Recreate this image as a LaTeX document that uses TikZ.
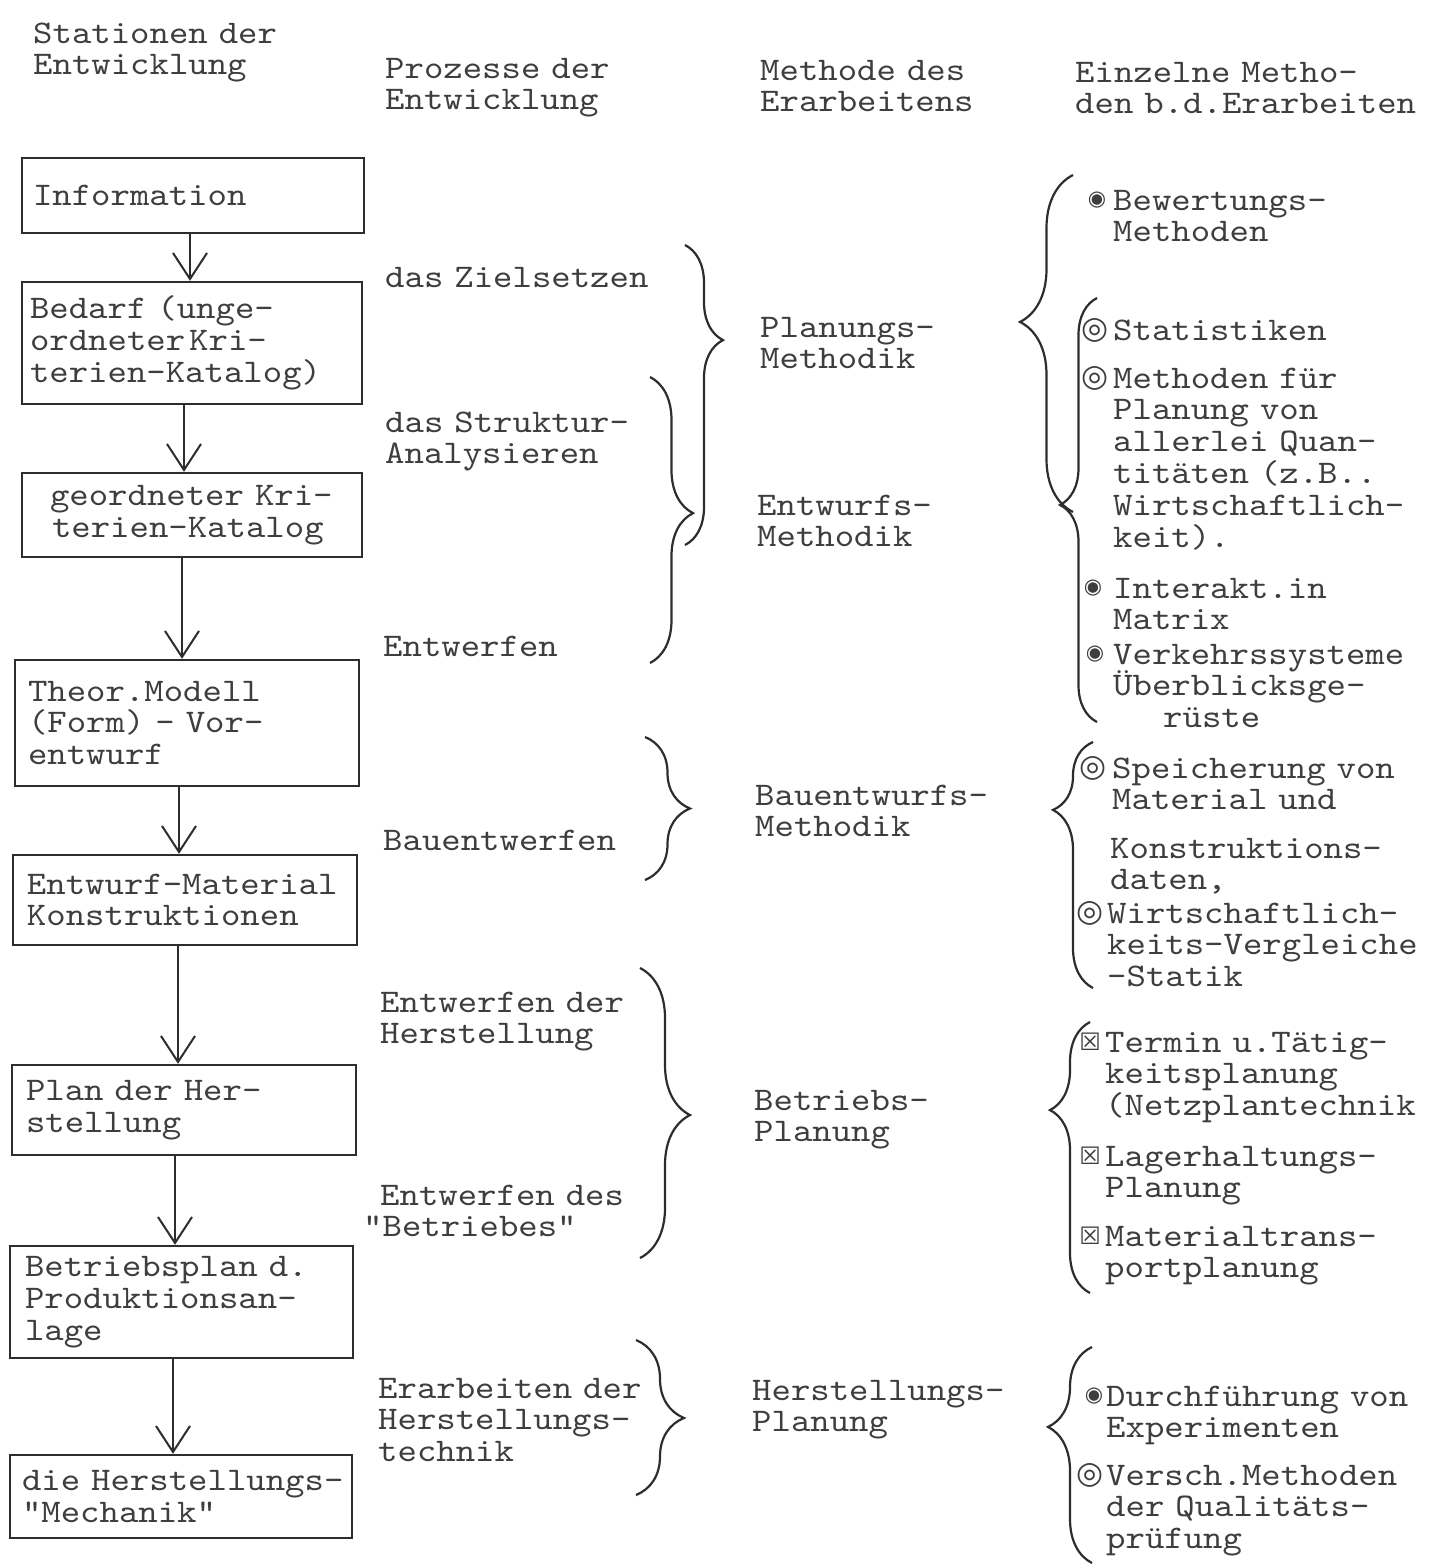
\documentclass[tikz,border=0pt]{standalone}
\usepackage{fontspec}
\newfontfamily\typew{lmmono10-regular.otf}[FakeStretch=1.12, Ligatures=TeXOff, HyphenChar=None, WordSpace={1,0,0}]
\newfontfamily\symfont{DejaVu Sans}
\usetikzlibrary{arrows.meta,decorations.pathreplacing}
\definecolor{ink}{RGB}{62,62,62}
\definecolor{rule}{RGB}{45,45,45}
\newcommand\tw{\typew\fontsize{33}{31.8}\selectfont\frenchspacing\lineskiplimit=-100pt\relax}
\newcommand\symbig{\symfont\fontsize{31}{31}\selectfont}
\newcommand\symsmall{\symfont\fontsize{21}{21}\selectfont}
\newcommand\symbox{\symfont\fontsize{24}{24}\selectfont}
\begin{document}
\begin{tikzpicture}[x=1pt,y=-1pt,
  lbl/.style={anchor=base west, inner sep=0pt, text width=420pt, align=left, text=ink, font=\tw},
  stage/.style={draw=rule, line width=2.4pt, align=left, text=ink, font=\tw, inner ysep=0pt},
  flow/.style={draw=rule, line width=2pt, -{Straight Barb[length=26pt,width=34pt,line width=2pt]}},
  curly/.style={draw=rule, line width=2.2pt, decorate},
  bulletmark/.style={inner sep=0pt, text=ink, anchor=center}]
\useasboundingbox (0,0) rectangle (1433,1566);
\fill[white] (0,0) rectangle (1433,1566);

% column headings
\node[lbl] (h1) at (33,43) {Stationen der\\Entwicklung};
\node[lbl] (h2) at (385,78) {Prozesse der\\Entwicklung};
\node[lbl] (h3) at (760,80) {Methode des\\Erarbeitens};
\node[lbl] (h4) at (1075,82) {Einzelne Metho-\\den b.d.Erarbeiten};

% stations of the development
\node[stage, minimum width=342pt, minimum height=75pt, inner xsep=11pt, text width=320pt] (b1) at (193,195.5) {Information};
\node[stage, minimum width=340pt, minimum height=122pt, inner xsep=8pt, text width=324pt] (b2) at (192,343) {\mbox{Bedarf (unge-}\\\mbox{ordneter\kern4pt Kri-}\\\mbox{terien-Katalog)}};
\node[stage, minimum width=340pt, minimum height=84pt, inner xsep=28pt, text width=284pt] (b3) at (192,515) {\mbox{geordneter Kri-}\\\mbox{\hspace*{2pt}terien-Katalog}};
\node[stage, minimum width=344pt, minimum height=126pt, inner xsep=13pt, text width=318pt] (b4) at (187,723) {\mbox{Theor.Modell}\\\mbox{(Form) - Vor-}\\\mbox{entwurf}};
\node[stage, minimum width=344pt, minimum height=90pt, inner xsep=14pt, text width=316pt] (b5) at (185,900) {\mbox{Entwurf-Material}\\\mbox{Konstruktionen}};
\node[stage, minimum width=344pt, minimum height=90pt, inner xsep=14pt, text width=316pt] (b6) at (184,1110) {\mbox{Plan der Her-}\\\mbox{stellung}};
\node[stage, minimum width=343pt, minimum height=112pt, inner xsep=15pt, text width=313pt] (b7) at (181.5,1302) {\mbox{Betriebsplan d.}\\\mbox{Produktionsan-}\\\mbox{lage}};
\node[stage, minimum width=342pt, minimum height=83pt, inner xsep=12pt, text width=318pt] (b8) at (181,1496.5) {\mbox{die Herstellungs-}\\\mbox{"Mechanik"}};

% flow between the stations
\coordinate (x1) at (190,0);
\coordinate (x2) at (184,0);
\coordinate (x3) at (182,0);
\coordinate (x4) at (179,0);
\coordinate (x5) at (178,0);
\coordinate (x6) at (175,0);
\coordinate (x7) at (173,0);
\draw[flow] (b1.south -| x1) -- (b2.north -| x1);
\draw[flow] (b2.south -| x2) -- (b3.north -| x2);
\draw[flow] (b3.south -| x3) -- (b4.north -| x3);
\draw[flow] (b4.south -| x4) -- (b5.north -| x4);
\draw[flow] (b5.south -| x5) -- (b6.north -| x5);
\draw[flow] (b6.south -| x6) -- (b7.north -| x6);
\draw[flow] (b7.south -| x7) -- (b8.north -| x7);

% processes
\node[lbl] (m1) at (385,287) {das Zielsetzen};
\node[lbl] (m2) at (385,432) {das Struktur-\\Analysieren};
\node[lbl] (m3) at (383,656) {Entwerfen};
\node[lbl] (m4) at (383,850) {Bauentwerfen};
\node[lbl] (m5) at (380,1012) {Entwerfen der\\Herstellung};
\node[lbl] (m6) at (380,1205) {Entwerfen des\\\hspace*{-17pt}"Betriebes"};
\node[lbl] (m7) at (378,1398) {Erarbeiten der\\Herstellungs-\\technik};

% braces grouping the processes
\draw[curly, decoration={brace, amplitude=38pt, aspect=0.317}] (685,245) -- (685,545);
\draw[curly, decoration={brace, amplitude=43pt, aspect=0.476}] (650,377) -- (650,663);
\draw[curly, decoration={brace, amplitude=45pt, aspect=0.5}] (645,737) -- (645,880);
\draw[curly, decoration={brace, amplitude=50pt, aspect=0.507}] (640,968) -- (640,1258);
\draw[curly, decoration={brace, amplitude=48pt, aspect=0.503}] (636,1340) -- (636,1495);

% methods
\node[lbl] (p1) at (760,337) {Planungs-\\Methodik};
\node[lbl] (p2) at (757,515) {Entwurfs-\\Methodik};
\node[lbl] (p3) at (755,805) {Bauentwurfs-\\Methodik};
\node[lbl] (p4) at (754,1110) {Betriebs-\\Planung};
\node[lbl] (p5) at (752,1400) {Herstellungs-\\Planung};

% braces grouping the single methods
\draw[curly, decoration={brace, amplitude=53pt, aspect=0.564}] (1073,512) -- (1073,175);
\draw[curly, decoration={brace, amplitude=37pt, aspect=0.512}] (1097,722) -- (1097,298);
\draw[curly, decoration={brace, amplitude=40pt, aspect=0.724}] (1093,988) -- (1093,742);
\draw[curly, decoration={brace, amplitude=40pt, aspect=0.675}] (1090,1293) -- (1090,1022);
\draw[curly, decoration={brace, amplitude=44pt, aspect=0.63}] (1092,1563) -- (1092,1347);

% single methods
\node[bulletmark, font=\symsmall] (s1) at (1097,200) {◉};
\node[lbl] (r1) at (1113,210) {Bewertungs-\\Methoden};
\node[bulletmark, font=\symbig] (s2) at (1095,330) {◎};
\node[lbl] (r2) at (1113,340) {Statistiken};
\node[bulletmark, font=\symbig] (s3) at (1095,378) {◎};
\node[lbl] (r3) at (1113,388) {Methoden für\\Planung von\\allerlei Quan-\\titäten (z.B..\\Wirtschaftlich-\\keit).};
\node[bulletmark, font=\symsmall] (s4) at (1093,588) {◉};
\node[lbl] (r4) at (1113,598) {Interakt.in\\Matrix};
\node[bulletmark, font=\symsmall] (s5) at (1095,654) {◉};
\node[lbl] (r5) at (1113,664) {Verkehrssysteme\\Überblicksge-\\\hspace*{50pt}rüste};
\node[bulletmark, font=\symbig] (s6) at (1093,768) {◎};
\node[lbl] (r6) at (1112,778) {Speicherung von\\Material und};
\node[lbl] (r7) at (1110,858) {Konstruktions-\\daten,};
\node[bulletmark, font=\symbig] (s7) at (1090,913) {◎};
\node[lbl] (r8) at (1107,923) {Wirtschaftlich-\\keits-Vergleiche\\-Statik};
\node[bulletmark, font=\symbox] (s8) at (1090,1042) {☒};
\node[lbl] (r9) at (1105,1052) {Termin u.Tätig-\\keitsplanung\\(Netzplantechnik};
\node[bulletmark, font=\symbox] (s9) at (1090,1156) {☒};
\node[lbl] (r10) at (1105,1166) {Lagerhaltungs-\\Planung};
\node[bulletmark, font=\symbox] (s10) at (1090,1236) {☒};
\node[lbl] (r11) at (1105,1246) {Materialtrans-\\portplanung};
\node[bulletmark, font=\symsmall] (s11) at (1094,1396) {◉};
\node[lbl] (r12) at (1106,1406) {Durchführung von\\Experimenten};
\node[bulletmark, font=\symbig] (s12) at (1090,1475) {◎};
\node[lbl] (r13) at (1106,1485) {Versch.Methoden\\der Qualitäts-\\prüfung};
\end{tikzpicture}
\end{document}
